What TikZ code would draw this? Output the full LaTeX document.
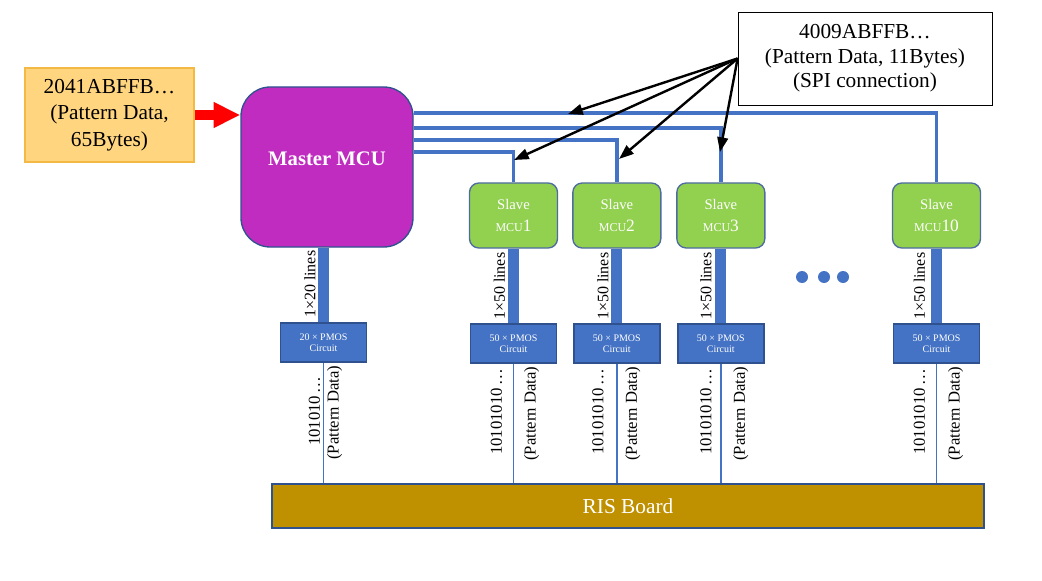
\documentclass[tikz,border=0pt]{standalone}
\usepackage{fontspec}
\setmainfont{Liberation Serif}
\usetikzlibrary{positioning, calc, arrows.meta}
\definecolor{colour_input}{HTML}{FFD580}
\definecolor{colour_input_edge}{HTML}{F4B942}
\definecolor{colour_master}{HTML}{C02CC0}
\definecolor{colour_slave}{HTML}{92D050}
\definecolor{colour_pmos}{HTML}{4472C4}
\definecolor{colour_edge}{HTML}{2F528F}
\definecolor{colour_board}{HTML}{BF9000}

\begin{document}
\begin{tikzpicture}[
    x=0.75pt, y=-0.75pt,
    inputbox/.style={rectangle, draw=colour_input_edge, fill=colour_input, line width=0.8pt,
                minimum width=126.75pt, minimum height=70.5pt, align=center,
                font=\fontsize{16}{20}\selectfont},
    masterbox/.style={rectangle, draw=colour_edge, fill=colour_master, line width=1pt,
                rounded corners=22pt, minimum width=129pt, minimum height=120pt},
    slavebox/.style={rectangle, draw=colour_edge!85, fill=colour_slave, line width=1pt,
                rounded corners=7pt, minimum width=66pt, minimum height=48.75pt,
                align=center, text=white, font=\fontsize{11}{16}\selectfont},
    pmosbox/.style={rectangle, draw=colour_edge, fill=colour_pmos, line width=1pt,
                minimum width=64.5pt, minimum height=29.25pt, align=center, text=white,
                font=\fontsize{7.5}{8.25}\selectfont},
    callout/.style={rectangle, draw=black, fill=white, line width=0.6pt,
                minimum width=190.5pt, minimum height=69.75pt, align=center,
                font=\fontsize{16}{18.5}\selectfont},
    boardbox/.style={rectangle, draw=colour_edge, fill=colour_board, line width=1.5pt,
                minimum width=534pt, minimum height=33pt, text=white,
                font=\fontsize{16}{19}\selectfont},
    bus/.style={draw=colour_pmos, line width=2.5pt},
    bar/.style={draw=colour_pmos, line width=8.25pt},
    wire/.style={draw=colour_pmos, line width=1.3pt},
    spi/.style={-{Triangle[length=11pt, width=8pt]}, line width=1.8pt, black},
    feed/.style={-{Triangle[length=20pt, width=18pt]}, line width=7pt, red},
    barlabel/.style={rotate=90, font=\fontsize{12}{12}\selectfont},
    datalabel/.style={rotate=90, font=\fontsize{12.5}{12.5}\selectfont}
]
\useasboundingbox (0,0) rectangle (1042,581);

% Master side
\node[inputbox] (input) at (109.5,115) {2041ABFFB…\\(Pattern Data,\\65Bytes)};
\node[masterbox] (master) at (327,167) {};
\node[text=white, font=\fontsize{15.5}{18}\selectfont\bfseries] (mastertext) at (327,159) {Master MCU};
\draw[feed] (input.east) -- (master.west |- input.east);

% Slave MCUs
\node[slavebox] (slave1) at (513.5,215.5) {Slave\\{\fontsize{9}{16}\selectfont MCU}{\fontsize{13}{16}\selectfont 1}};
\node[slavebox, right=10.5pt of slave1] (slave2) {Slave\\{\fontsize{9}{16}\selectfont MCU}{\fontsize{13}{16}\selectfont 2}};
\node[slavebox, right=11pt of slave2] (slave3) {Slave\\{\fontsize{9}{16}\selectfont MCU}{\fontsize{13}{16}\selectfont 3}};
\node[slavebox] (slave10) at (936.5,215.5) {Slave\\{\fontsize{9}{16}\selectfont MCU}{\fontsize{13}{16}\selectfont 10}};

% SPI bus
\draw[bus] (master.east |- 0,113) -| (slave10.north);
\draw[bus] (master.east |- 0,128) -| (slave3.north);
\draw[bus] (master.east |- 0,140) -| (slave2.north);
\draw[bus] (master.east |- 0,152) -| (slave1.north);

% PMOS circuits
\node[pmosbox] (pmos0) at (323.5,342.5) {20 × PMOS\\Circuit};
\node[pmosbox, below=56pt of slave1] (pmos1) {50 × PMOS\\Circuit};
\node[pmosbox, below=56pt of slave2] (pmos2) {50 × PMOS\\Circuit};
\node[pmosbox, below=56pt of slave3] (pmos3) {50 × PMOS\\Circuit};
\node[pmosbox, below=56pt of slave10] (pmos10) {50 × PMOS\\Circuit};

\draw[bar] (pmos0.north |- master.south) -- (pmos0.north);
\draw[bar] (slave1.south) -- (pmos1.north);
\draw[bar] (slave2.south) -- (pmos2.north);
\draw[bar] (slave3.south) -- (pmos3.north);
\draw[bar] (slave10.south) -- (pmos10.north);

\node[barlabel] (lines0) at ($(pmos0.north)+(-13.5,-38)$) {1×20 lines};
\node[barlabel] (lines1) at ($(pmos1.north)+(-14,-37)$) {1×50 lines};
\node[barlabel] (lines2) at ($(pmos2.north)+(-14,-37)$) {1×50 lines};
\node[barlabel] (lines3) at ($(pmos3.north)+(-15,-37)$) {1×50 lines};
\node[barlabel] (lines10) at ($(pmos10.north)+(-17,-37)$) {1×50 lines};

\foreach \dx in {802,824,843}
    \fill[colour_pmos] (\dx,277) circle (4.5pt);

% RIS board
\node[boardbox] (board) at (628,506) {RIS Board};
\draw[wire] (pmos0.south) -- (pmos0.south |- board.north);
\draw[wire] (pmos1.south) -- (pmos1.south |- board.north);
\draw[wire] (pmos2.south) -- (pmos2.south |- board.north);
\draw[wire] (pmos3.south) -- (pmos3.south |- board.north);
\draw[wire] (pmos10.south) -- (pmos10.south |- board.north);

\node[datalabel, anchor=west] (bits0) at ($(pmos0.south)+(-9,88)$) {101010\,…};
\node[datalabel] (data0) at ($(pmos0.south)+(11,50)$) {(Pattern Data)};
\node[datalabel, anchor=west] (bits1) at ($(pmos1.south)+(-17,96)$) {10101010\,…};
\node[datalabel] (data1) at ($(pmos1.south)+(18,50)$) {(Pattern Data)};
\node[datalabel, anchor=west] (bits2) at ($(pmos2.south)+(-19,96)$) {10101010\,…};
\node[datalabel] (data2) at ($(pmos2.south)+(16,50)$) {(Pattern Data)};
\node[datalabel, anchor=west] (bits3) at ($(pmos3.south)+(-15,96)$) {10101010\,…};
\node[datalabel] (data3) at ($(pmos3.south)+(20,50)$) {(Pattern Data)};
\node[datalabel, anchor=west] (bits10) at ($(pmos10.south)+(-17,96)$) {10101010\,…};
\node[datalabel] (data10) at ($(pmos10.south)+(19,50)$) {(Pattern Data)};

% SPI callout
\node[callout] (spi) at (865,58.5) {4009ABFFB…\\(Pattern Data, 11Bytes)\\(SPI connection)};
\coordinate (tipbus) at (568,114);
\coordinate (tip1) at (514,160);
\coordinate (tip2) at (619,159);
\coordinate (tip3) at (720,152);
\draw[spi] (spi.west) -- (tipbus);
\draw[spi] (spi.west) -- (tip1);
\draw[spi] (spi.west) -- (tip2);
\draw[spi] (spi.west) -- (tip3);

\end{tikzpicture}
\end{document}
